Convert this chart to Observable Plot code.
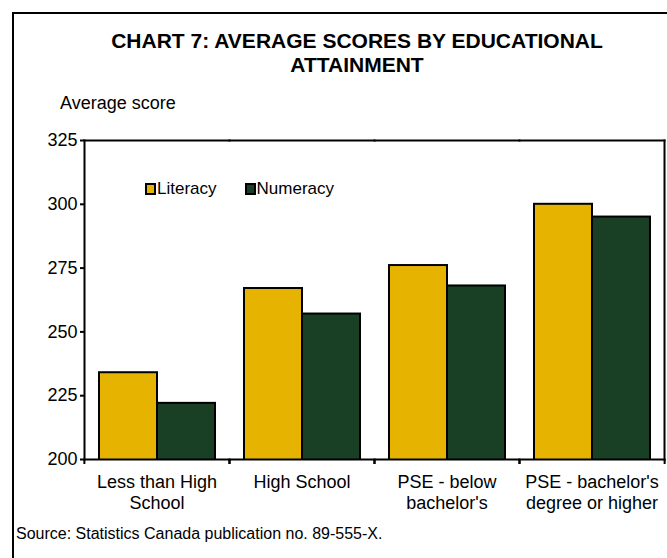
<!DOCTYPE html>
<html><head><meta charset="utf-8">
<script src="https://cdn.jsdelivr.net/npm/d3@7"></script>
<script src="https://cdn.jsdelivr.net/npm/@observablehq/plot@0.6"></script>
<style>
body{margin:0;width:667px;height:558px;overflow:hidden;background:#fff;font-family:"Liberation Sans",Arial,sans-serif;position:relative;color:#000}
#border{position:absolute;left:12px;top:12px;width:720px;height:620px;border:2px solid #000;box-sizing:border-box}
#title{position:absolute;left:57px;width:600px;top:29px;text-align:center;font-weight:bold;font-size:21px;line-height:24px}
#ylabel{position:absolute;left:60px;top:93px;font-size:18px;line-height:20px}
#chart{position:absolute;left:0;top:120px}
#legend{position:absolute;top:179px;left:145px;font-size:17px;line-height:20px;display:flex}
.item{display:flex;align-items:center;margin-right:28px}
.sw{width:11px;height:12px;border:2px solid #000;box-sizing:border-box;margin-right:1px}
#source{position:absolute;left:16px;top:525px;font-size:16px;line-height:18px}
</style></head>
<body>
<div id="border"></div>
<div id="title">CHART 7: AVERAGE SCORES BY EDUCATIONAL<br>ATTAINMENT</div>
<div id="ylabel">Average score</div>
<div id="chart"></div>
<div id="legend"></div>
<div id="source">Source: Statistics Canada publication no. 89-555-X.</div>
<script>
const categories = ["Less than High\nSchool", "High School", "PSE - below\nbachelor's", "PSE - bachelor's\ndegree or higher"];
const series = ["Literacy", "Numeracy"];
const literacy = [234, 267, 276, 300];
const numeracy = [222, 257, 268, 295];
const yTicks = [200, 225, 250, 275, 300, 325];
const colors = ["#E6B400", "#193F25"];

const data = categories.flatMap((c, i) => [
  {category: c, series: series[0], value: literacy[i]},
  {category: c, series: series[1], value: numeracy[i]}
]);

const W = 667, H = 400, mL = 83, mR = 3;
const halfStep = (W - mL - mR) / categories.length / 2;

const chart = Plot.plot({
  width: W, height: H,
  marginTop: 20, marginBottom: 61, marginLeft: mL, marginRight: mR,
  style: {fontFamily: '"Liberation Sans", Arial, sans-serif', fontSize: "18px", color: "#000", background: "transparent"},
  fx: {domain: categories, padding: 0, label: null},
  x: {domain: series, paddingInner: 0, paddingOuter: 0.25, axis: null},
  y: {domain: [yTicks[0], yTicks[yTicks.length - 1]], label: null},
  color: {domain: series, range: colors},
  marks: [
    Plot.barY(data, {fx: "category", x: "series", y: "value", fill: "series", stroke: "#000", strokeWidth: 2, inset: 0, clip: true}),
    Plot.frame({anchor: "top", strokeWidth: 2}),
    Plot.frame({anchor: "bottom", strokeWidth: 2}),
    Plot.frame({anchor: "left", strokeWidth: 2, facetAnchor: "left"}),
    Plot.frame({anchor: "right", strokeWidth: 2, facetAnchor: "right"}),
    Plot.axisY({ticks: yTicks, tickSize: 4, tickPadding: 3, strokeWidth: 2, label: null}),
    Plot.axisFx({anchor: "bottom", tickSize: 0, tickPadding: 13, lineHeight: 1.2, label: null}),
    Plot.axisFx({anchor: "bottom", fill: "none", tickSize: 5, strokeWidth: 2, dx: -halfStep, label: null}),
    Plot.axisFx({anchor: "bottom", fill: "none", tickSize: 5, strokeWidth: 2, dx: halfStep, label: null})
  ]
});
document.getElementById("chart").appendChild(chart);

const legend = document.getElementById("legend");
series.forEach((s, i) => {
  const item = document.createElement("div");
  item.className = "item";
  const sw = document.createElement("div");
  sw.className = "sw";
  sw.style.background = colors[i];
  const t = document.createElement("span");
  t.textContent = s;
  item.appendChild(sw); item.appendChild(t);
  legend.appendChild(item);
});
</script>
</body></html>
